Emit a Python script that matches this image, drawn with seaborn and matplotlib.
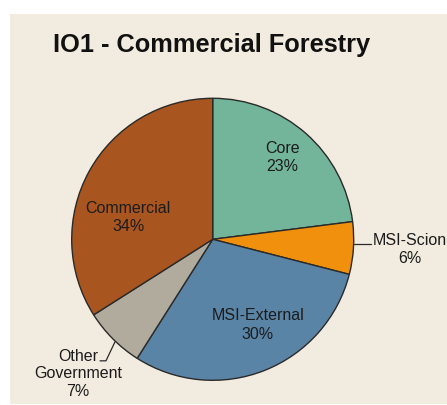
import matplotlib
matplotlib.use("Agg")
import matplotlib.pyplot as plt
import seaborn as sns
from matplotlib.patches import Rectangle

categories = ["Core", "MSI-Scion", "MSI-External", "Other Government", "Commercial"]
shares = [23, 6, 30, 7, 34]
colors = ["#73B59A", "#F0900C", "#5A84A6", "#B0AB9D", "#A8551F"]
title = "IO1 - Commercial Forestry"

sns.set_theme(style="white")
plt.rcParams["font.family"] = ["Liberation Sans", "DejaVu Sans"]

fig = plt.figure(figsize=(4.47, 4.05), dpi=100, facecolor="white")
bg = "#F2EBDF"
fig.patches.append(Rectangle((10 / 447, 1 / 405), 437 / 447, 390 / 405,
                             transform=fig.transFigure, facecolor=bg,
                             edgecolor="none", zorder=-10))

ax = fig.add_axes([0.1604, 0.061, 0.6309, 0.6963])
ax.set_facecolor("none")
ax.set_zorder(5)
wedges, _ = ax.pie(shares, colors=colors, startangle=90, counterclock=False,
                   radius=1.0,
                   wedgeprops=dict(edgecolor="#2a2a2a", linewidth=1.0))
ax.set_xlim(-1.0, 1.0)
ax.set_ylim(-1.0, 1.0)
ax.set_aspect("equal")
ax.axis("off")

tc = "#1c1c1c"
fs = 11.5
ls = 1.3
pct = [f"{v}%" for v in shares]

ax.text(0.496, 0.58, f"{categories[0]}\n{pct[0]}", ha="center", va="center",
        fontsize=fs, color=tc, linespacing=ls)
ax.text(-0.599, 0.155, f"{categories[4]}\n{pct[4]}", ha="center", va="center",
        fontsize=fs, color=tc, linespacing=ls)
ax.text(0.319, -0.608, f"{categories[2]}\n{pct[2]}", ha="center", va="center",
        fontsize=fs, color=tc, linespacing=ls)
ax.text(1.40, -0.072, f"{categories[1]}\n{pct[1]}", ha="center", va="center",
        fontsize=fs, color=tc, linespacing=ls, clip_on=False)
ax.plot([1.0, 1.12], [-0.035, -0.035], color="#2a2a2a", lw=0.9, clip_on=False)

other, gov = categories[3].split(" ")
ax.text(-0.955, -0.953, f"{other}\n{gov}\n{pct[3]}", ha="center", va="center",
        fontsize=fs, color=tc, linespacing=1.22, clip_on=False)
ax.plot([-0.799, -0.757, -0.693], [-0.862, -0.862, -0.727], color="#2a2a2a",
        lw=0.9, clip_on=False)

fig.text(212 / 447, (405 - 51.7) / 405, title, ha="center", va="baseline",
         fontsize=18.3, fontweight="bold", color="#111111")

fig.savefig("out.png", dpi=100, facecolor="white")
